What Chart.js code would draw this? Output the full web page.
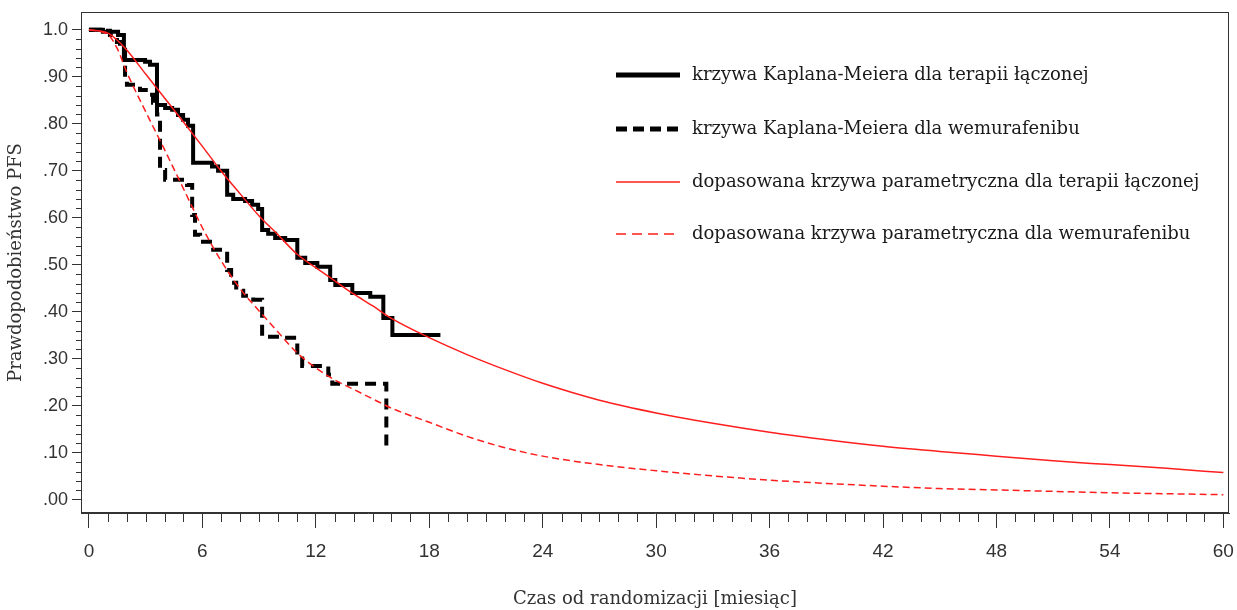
<!DOCTYPE html>
<html><head><meta charset="utf-8">
<script src="https://cdn.jsdelivr.net/npm/chart.js@4.4.0/dist/chart.umd.min.js"></script>
<style>html,body{margin:0;padding:0;background:#fff}#wrap{width:1237px;height:610px}</style>
</head><body><div id="wrap"><canvas id="c" width="1237" height="610"></canvas></div>
<script>
// Kaplan-Meier: combination therapy (time in months, survival after step)
const kmComboTime = [0,0.74,1.54,1.85,2.97,3.23,3.60,4.03,4.40,4.71,4.98,5.24,5.51,6.51,6.83,7.31,7.63,8.26,8.63,8.95,9.16,9.48,9.85,10.38,11.02,11.44,12.08,12.76,13.03,13.93,14.88,15.57,16.05,18.59];
const kmComboSurv = [1.0,0.996,0.989,0.936,0.932,0.926,0.840,0.834,0.830,0.819,0.809,0.796,0.717,0.709,0.700,0.649,0.640,0.636,0.628,0.619,0.574,0.566,0.557,0.553,0.515,0.504,0.496,0.468,0.457,0.440,0.432,0.387,0.351,0.351];
// Kaplan-Meier: vemurafenib
const kmVemTime = [0,0.58,1.11,1.48,1.64,1.91,2.01,2.70,3.13,3.39,3.60,3.76,4.03,5.19,5.46,5.61,5.88,6.57,7.31,7.52,7.79,8.16,8.69,9.16,10.22,11.02,11.28,12.66,12.87,15.73];
const kmVemSurv = [1.0,0.998,0.989,0.974,0.962,0.894,0.883,0.872,0.862,0.845,0.820,0.702,0.681,0.670,0.606,0.564,0.549,0.532,0.489,0.462,0.445,0.434,0.426,0.347,0.345,0.309,0.285,0.266,0.247,0.106];
// Fitted parametric curves
const fitTime  = [0,1,1.5,2,3,4,5,6,7,8,9,10,11,12,13,14,15,16,18,20,22,24,27,30,33,36,39,42,45,48,51,54,57,60];
const fitCombo = [1.0,0.993,0.978,0.957,0.906,0.855,0.804,0.752,0.699,0.651,0.604,0.564,0.523,0.494,0.466,0.438,0.413,0.386,0.345,0.309,0.277,0.248,0.212,0.185,0.163,0.144,0.128,0.114,0.103,0.093,0.083,0.075,0.067,0.058];
const fitVem   = [1.0,0.990,0.960,0.910,0.826,0.745,0.662,0.579,0.508,0.449,0.402,0.357,0.313,0.281,0.255,0.235,0.215,0.195,0.165,0.135,0.111,0.093,0.075,0.062,0.051,0.042,0.035,0.029,0.024,0.021,0.018,0.015,0.013,0.011];
// Axes
const xTicks = [0,6,12,18,24,30,36,42,48,54,60];
const yTicks = [0,0.1,0.2,0.3,0.4,0.5,0.6,0.7,0.8,0.9,1.0];
const yTickLabels = ['.00','.10','.20','.30','.40','.50','.60','.70','.80','.90','1.0'];
const xMinorStep = 1, yMinorStep = 0.02;
const seriesLabels = [
  'krzywa Kaplana-Meiera dla terapii łączonej',
  'krzywa Kaplana-Meiera dla wemurafenibu',
  'dopasowana krzywa parametryczna dla terapii łączonej',
  'dopasowana krzywa parametryczna dla wemurafenibu'
];
const xTitle = 'Czas od randomizacji [miesiąc]';
const yTitle = 'Prawdopodobieństwo PFS';

const pts = (xs, ys) => xs.map((x, i) => ({x, y: ys[i]}));
const RED = 'rgb(255,30,30)';
const SERIF = "'DejaVu Serif', serif";
const SANS = "'Liberation Sans', Arial, sans-serif";

const framePlugin = {
  id: 'frame',
  afterDraw(chart) {
    const {ctx, chartArea: a, scales: {x, y}} = chart;
    ctx.save();
    ctx.strokeStyle = '#333'; ctx.lineWidth = 1;
    ctx.strokeRect(a.left + 0.5, a.top + 0.5, a.right - a.left - 1, a.bottom - a.top - 1);
    ctx.beginPath();
    for (let v = xTicks[0]; v <= xTicks[xTicks.length - 1] + 1e-9; v += xMinorStep) {
      if (xTicks.some(t => Math.abs(t - v) < 1e-9)) continue;
      const px = Math.round(x.getPixelForValue(v)) + 0.5;
      ctx.moveTo(px, a.bottom); ctx.lineTo(px, a.bottom + 9);
    }
    for (let k = 0; k <= 50; k++) {
      const v = k * yMinorStep;
      if (yTicks.some(t => Math.abs(t - v) < 1e-9)) continue;
      const py = Math.round(y.getPixelForValue(v)) + 0.5;
      ctx.moveTo(a.left, py); ctx.lineTo(a.left - 5, py);
    }
    ctx.stroke();
    // legend
    const ds = chart.data.datasets.slice().sort((p, q) => p.legendIndex - q.legendIndex);
    const lx0 = 616, lx1 = 680, tx = 692, ys = [75, 129, 182, 234];
    ds.forEach((d, i) => {
      const yy = ys[i];
      ctx.beginPath();
      ctx.strokeStyle = d.borderColor;
      ctx.lineWidth = d.legendWidth;
      ctx.setLineDash(d.legendDash || []);
      ctx.lineCap = 'butt';
      ctx.moveTo(lx0, yy); ctx.lineTo(lx1, yy);
      ctx.stroke();
      ctx.setLineDash([]);
      ctx.fillStyle = '#1a1a1a';
      ctx.font = '18px ' + SERIF;
      ctx.textBaseline = 'middle';
      ctx.textAlign = 'left';
      ctx.fillText(d.label, tx, yy);
    });
    ctx.restore();
  }
};

new Chart(document.getElementById('c'), {
  type: 'line',
  data: {
    datasets: [
      { label: seriesLabels[0], legendIndex: 0, data: pts(kmComboTime, kmComboSurv), stepped: 'before',
        borderColor: '#000', borderWidth: 4, pointRadius: 0, order: 2, legendWidth: 5 },
      { label: seriesLabels[1], legendIndex: 1, data: pts(kmVemTime, kmVemSurv), stepped: 'before',
        borderColor: '#000', borderWidth: 4, borderDash: [11, 7], pointRadius: 0, order: 2, legendWidth: 5, legendDash: [11, 6] },
      { label: seriesLabels[2], legendIndex: 2, data: pts(fitTime, fitCombo), cubicInterpolationMode: 'monotone',
        borderColor: RED, borderWidth: 1.5, pointRadius: 0, order: 1, legendWidth: 1.5 },
      { label: seriesLabels[3], legendIndex: 3, data: pts(fitTime, fitVem), cubicInterpolationMode: 'monotone',
        borderColor: RED, borderWidth: 1.5, borderDash: [7, 4], pointRadius: 0, order: 1, legendWidth: 1.5, legendDash: [10, 6] }
    ]
  },
  options: {
    responsive: false, animation: false, devicePixelRatio: 1,
    layout: { padding: { top: 12, right: 8, left: 0, bottom: 0 } },
    plugins: { legend: { display: false }, tooltip: { enabled: false } },
    scales: {
      x: {
        type: 'linear', min: -0.42, max: 60.3,
        afterBuildTicks: s => { s.ticks = xTicks.map(v => ({ value: v })); },
        afterFit: s => { s.height = 97; s.paddingLeft = 0; s.paddingRight = 0; },
        ticks: { color: '#333', font: { family: SANS, size: 19 }, padding: 12, maxRotation: 0, autoSkip: false },
        grid: { drawOnChartArea: false, tickLength: 15, color: '#333' },
        border: { color: '#333' },
        title: { display: true, text: xTitle, color: '#333', font: { family: SERIF, size: 18 }, padding: { top: 0, bottom: 0 } }
      },
      y: {
        type: 'linear', min: -0.028, max: 1.038,
        afterBuildTicks: s => { s.ticks = yTicks.map(v => ({ value: v })); },
        afterFit: s => { s.width = 81; s.paddingTop = 0; s.paddingBottom = 0; },
        ticks: { color: '#333', font: { family: SANS, size: 18 }, padding: 4, autoSkip: false,
          callback: (v, i) => yTickLabels[i] },
        grid: { drawOnChartArea: false, tickLength: 9, color: '#333' },
        border: { color: '#333' },
        title: { display: true, text: yTitle, color: '#333', font: { family: SERIF, size: 18 }, padding: { top: 6, bottom: 0 } }
      }
    }
  },
  plugins: [framePlugin]
});
</script>
</body></html>
